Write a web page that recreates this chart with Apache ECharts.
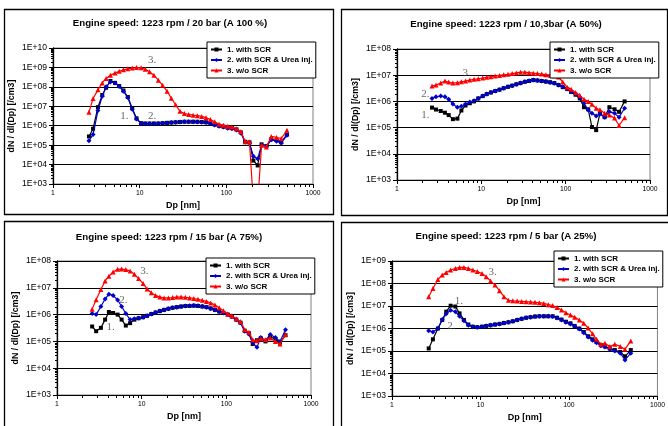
<!DOCTYPE html>
<html>
<head>
<meta charset="utf-8">
<script src="https://cdn.jsdelivr.net/npm/echarts@6/dist/echarts.min.js"></script>
<style>
  html, body { margin: 0; padding: 0; background: #fff; }
  #chart { width: 668px; height: 426px; }
</style>
</head>
<body>
<div id="chart"></div>
<script>
const dp = [2.6, 2.9, 3.3, 3.7, 4.1, 4.6, 5.2, 5.8, 6.5, 7.3, 8.2, 9.2, 10.4, 11.6, 13.0, 14.6, 16.4, 18.4, 20.7, 23.2,
  26.0, 29.2, 32.8, 36.8, 41.3, 46.3, 52.0, 58.3, 65.4, 73.4, 82.4, 92.4, 104, 116, 131, 147, 165, 185, 205, 230,
  255, 290, 330, 380, 430, 500]

const seriesNames = ['1. with SCR', '2. with SCR & Urea inj.', '3. w/o SCR']
const titles = [
  'Engine speed: 1223 rpm / 20 bar (A 100 %)',
  'Engine speed: 1223 rpm / 10,3bar (A 50%)',
  'Engine speed: 1223 rpm / 15 bar (A 75%)',
  'Engine speed: 1223 rpm / 5 bar (A 25%)'
]
const yMaxes = [1e10, 1e8, 1e8, 1e9]
const xTicksMinor = [2, 3, 4, 5, 6, 7, 8, 9, 20, 30, 40, 50, 60, 70, 80, 90, 200, 300, 400, 500, 600, 700, 800, 900]

// 20 bar
const p1Scr = [2.8e5, 7e5, 9e6, 3.8e7, 9e7, 2e8, 1.6e8, 1.1e8, 6.5e7, 3e7, 8e6, 2.4e6, 1.35e6, 1.3e6, 1.3e6, 1.3e6, 1.3e6, 1.35e6, 1.4e6, 1.45e6,
  1.5e6, 1.55e6, 1.6e6, 1.6e6, 1.6e6, 1.6e6, 1.55e6, 1.5e6, 1.35e6, 1.15e6, 1e6, 9e5, 8e5, 7.5e5, 6.5e5, 4.5e5, 1.5e5, 1.4e5, 1.6e4, 9e3,
  1.1e5, 9e4, 2e5, 1.8e5, 1.4e5, 3.5e5]
const p1Urea = [1.7e5, 3.5e5, 6e6, 3.3e7, 1e8, 1.8e8, 1.6e8, 1.05e8, 6e7, 2.8e7, 7e6, 2.2e6, 1.3e6, 1.25e6, 1.25e6, 1.25e6, 1.3e6, 1.35e6, 1.4e6, 1.45e6,
  1.5e6, 1.55e6, 1.6e6, 1.6e6, 1.6e6, 1.55e6, 1.5e6, 1.45e6, 1.3e6, 1.1e6, 9.5e5, 8.5e5, 7.5e5, 7e5, 6e5, 4.2e5, 1.4e5, 1.3e5, 2.7e4, 2e4,
  1e5, 8.5e4, 1.9e5, 1.6e5, 1.3e5, 3.2e5]
const p1NoScr = [5e6, 2.5e7, 7e7, 1.6e8, 2.7e8, 4e8, 5.2e8, 6.3e8, 7.5e8, 8.5e8, 9.3e8, 9.8e8, 9.5e8, 8e8, 6e8, 4e8, 2.2e8, 1.2e8, 6e7, 2.6e7,
  1.2e7, 5.5e6, 4.2e6, 3.8e6, 3.5e6, 3.3e6, 3e6, 2.6e6, 2.1e6, 1.6e6, 1.2e6, 1.05e6, 9.5e5, 8.5e5, 7e5, 5e5, 1.5e5, 1.5e5, 100, 100,
  1e5, 8e4, 2.8e5, 2.5e5, 2.2e5, 5.8e5]

// 10,3 bar
const p2Scr = [5.8e5, 4.9e5, 4.3e5, 3.7e5, 3e5, 2.1e5, 2.2e5, 4.5e5, 7e5, 8.5e5, 1e6, 1.3e6, 1.6e6, 1.9e6, 2.2e6, 2.5e6, 2.8e6, 3.2e6, 3.6e6, 4e6,
  4.5e6, 5e6, 5.6e6, 6e6, 6.5e6, 6.3e6, 6e6, 5.7e6, 5.4e6, 5e6, 4.2e6, 3.5e6, 3e6, 2.3e6, 1.8e6, 1.3e6, 6e5, 5e5, 1.05e5, 8e4,
  3.5e5, 2.5e5, 6e5, 5e5, 4e5, 1e6]
const p2Urea = [1.3e6, 1.5e6, 1.6e6, 1.5e6, 1.2e6, 8e5, 6e5, 6.5e5, 8e5, 9.5e5, 1.05e6, 1.3e6, 1.6e6, 1.9e6, 2.2e6, 2.5e6, 2.8e6, 3.2e6, 3.6e6, 4e6,
  4.5e6, 5e6, 5.6e6, 6.1e6, 6.5e6, 6.3e6, 6e6, 5.7e6, 5.3e6, 4.9e6, 4.2e6, 3.6e6, 3e6, 2.4e6, 1.9e6, 1.4e6, 8.5e5, 4.7e5, 3.5e5, 2.8e5,
  3.3e5, 2.5e5, 4e5, 3.5e5, 2.5e5, 5.5e5]
const p2NoScr = [3.9e6, 4.2e6, 5e6, 6e6, 5.5e6, 5e6, 5.2e6, 5.6e6, 6e6, 6.5e6, 7e6, 7.3e6, 7.8e6, 8.3e6, 8.8e6, 9.3e6, 9.8e6, 1.03e7, 1.08e7, 1.15e7,
  1.22e7, 1.3e7, 1.3e7, 1.25e7, 1.2e7, 1.15e7, 1.1e7, 1.05e7, 1e7, 9.5e6, 8.5e6, 5.5e6, 3.5e6, 2.9e6, 2.2e6, 1.7e6, 1.2e6, 1e6, 7.8e5, 5.5e5,
  4.8e5, 3.5e5, 3e5, 2.3e5, 1.2e5, 2.4e5]

// 15 bar
const p3Scr = [3.6e5, 2.4e5, 3.2e5, 6.5e5, 1.25e6, 1.15e6, 1e6, 6.5e5, 3.9e5, 4.8e5, 6.5e5, 7.3e5, 8e5, 9e5, 1.05e6, 1.2e6, 1.35e6, 1.5e6, 1.65e6, 1.8e6,
  1.9e6, 2e6, 2.1e6, 2.1e6, 2.15e6, 2.1e6, 2e6, 1.9e6, 1.7e6, 1.5e6, 1.3e6, 1.15e6, 1e6, 8.5e5, 6.5e5, 5e5, 2.5e5, 2e5, 8e4, 1.1e5,
  1.3e5, 1e5, 1.5e5, 1.2e5, 9e4, 1.7e5]
const p3Urea = [1.1e6, 1e6, 2e6, 3.8e6, 5.8e6, 5.2e6, 3.5e6, 2e6, 1.1e6, 6.5e5, 7e5, 7.5e5, 8e5, 9e5, 1.05e6, 1.2e6, 1.35e6, 1.5e6, 1.65e6, 1.8e6,
  1.9e6, 2e6, 2.1e6, 2.15e6, 2.2e6, 2.15e6, 2.05e6, 1.9e6, 1.7e6, 1.5e6, 1.3e6, 1.15e6, 1e6, 8.5e5, 6.5e5, 5e5, 2.4e5, 1.9e5, 9e4, 6e4,
  1.4e5, 1.1e5, 1.8e5, 1.4e5, 1e5, 2.7e5]
const p3NoScr = [1.6e6, 3.6e6, 8.7e6, 1.8e7, 2.7e7, 3.9e7, 4.9e7, 5e7, 4.8e7, 4.2e7, 3.2e7, 2.2e7, 1.45e7, 9e6, 6.5e6, 5.2e6, 4.5e6, 4.2e6, 4.2e6, 4.3e6,
  4.5e6, 4.5e6, 4.4e6, 4.2e6, 4e6, 3.7e6, 3.4e6, 3.1e6, 2.7e6, 2.3e6, 1.8e6, 1.4e6, 1.05e6, 9e5, 7e5, 5.5e5, 2.7e5, 2.2e5, 1.15e5, 1.05e5,
  1.25e5, 1.15e5, 1.35e5, 1e5, 8e4, 1.8e5]

// 5 bar
const p4Scr = [1.3e5, 3.3e5, 1e6, 2.4e6, 5.6e6, 1.03e7, 9.5e6, 4.7e6, 2.4e6, 1.5e6, 1.2e6, 1.15e6, 1.2e6, 1.3e6, 1.4e6, 1.5e6, 1.6e6, 1.75e6, 1.9e6, 2.1e6,
  2.4e6, 2.7e6, 3e6, 3.2e6, 3.4e6, 3.5e6, 3.5e6, 3.5e6, 3.5e6, 3e6, 2.5e6, 2e6, 1.7e6, 1.3e6, 1e6, 7e5, 4.5e5, 3.3e5, 2.5e5, 1.8e5,
  1.6e5, 1.3e5, 1.1e5, 9e4, 5.8e4, 1.1e5]
const p4Urea = [8e5, 7e5, 1e6, 2.5e6, 4.5e6, 6.5e6, 5.5e6, 3.5e6, 2.2e6, 1.4e6, 1.2e6, 1.15e6, 1.2e6, 1.3e6, 1.4e6, 1.5e6, 1.6e6, 1.75e6, 1.9e6, 2.1e6,
  2.4e6, 2.7e6, 3e6, 3.2e6, 3.4e6, 3.5e6, 3.5e6, 3.5e6, 3.4e6, 2.9e6, 2.4e6, 1.9e6, 1.6e6, 1.25e6, 9.5e5, 6.5e5, 4.2e5, 3e5, 2.3e5, 1.7e5,
  1.5e5, 1.2e5, 1e5, 8e4, 4e4, 8e4]
const p4NoScr = [2.6e7, 6e7, 1.5e8, 2.4e8, 3.1e8, 4e8, 4.7e8, 5.2e8, 5.2e8, 4.7e8, 4e8, 3.4e8, 2.8e8, 2e8, 1.3e8, 8.5e7, 4.8e7, 2.6e7, 1.8e7, 1.7e7,
  1.65e7, 1.6e7, 1.55e7, 1.5e7, 1.45e7, 1.4e7, 1.3e7, 1.15e7, 1.05e7, 8.5e6, 6.6e6, 5e6, 4e6, 3.2e6, 2.4e6, 1.7e6, 1.05e6, 5.8e5, 3.3e5, 2e5,
  2.2e5, 1.6e5, 2e5, 1.6e5, 1.2e5, 2.8e5]

// curve labels: [Dp, value, text]
const p1Notes = [[13.9, 2.3e9, '3.'], [6.65, 3.3e6, '1.'], [13.9, 3.3e6, '2.']]
const p2Notes = [[6.7, 1.2e7, '3.'], [2.17, 1.9e6, '2.'], [2.17, 3.1e5, '1.']]
const p3Notes = [[10.8, 4.2e7, '3.'], [6.1, 3.4e6, '2.'], [4.3, 3.3e5, '1.']]
const p4Notes = [[13.7, 3.1e8, '3.'], [5.7, 1.7e7, '1.'], [4.7, 1.3e6, '2.']]

const panelSeries = [
  [p1Scr, p1Urea, p1NoScr],
  [p2Scr, p2Urea, p2NoScr],
  [p3Scr, p3Urea, p3NoScr],
  [p4Scr, p4Urea, p4NoScr]
]
const panelNotes = [p1Notes, p2Notes, p3Notes, p4Notes]

const grids = [
  { left: 53, top: 48, width: 260, height: 136 },
  { left: 397, top: 49, width: 253, height: 131 },
  { left: 57, top: 261, width: 254, height: 134 },
  { left: 392, top: 261, width: 267, height: 135 }
]
const frames = [[4, 9, 329, 205], [341, 9, 326, 206], [4, 221, 329, 210], [341, 222, 330, 210]]
const titlePos = [[170, 18], [506, 19], [169, 232], [506, 231]]
const legendPos = [[207, 42], [550, 42], [206, 258], [554, 251]]

const styles = [
  { color: '#000000', symbol: 'rect', symbolSize: 4 },
  { color: '#0000cc', symbol: 'diamond', symbolSize: 5 },
  { color: '#ff0000', symbol: 'triangle', symbolSize: 5 }
]

const font = 'Liberation Sans, Arial, sans-serif'

function expLabel(v) {
  const e = Math.round(Math.log10(v))
  return '1E+' + String(e).padStart(2, '0')
}

function minorTicks(i, axis, values) {
  return {
    type: 'custom',
    xAxisIndex: i,
    yAxisIndex: i,
    silent: true,
    z: 3,
    data: values.map((v) => (axis === 'x' ? [v, 1000] : [1, v])),
    renderItem: (params, api) => {
      const p = api.coord([api.value(0), api.value(1)])
      const x = Math.round(p[0]) + 0.5
      const y = Math.round(p[1]) + 0.5
      return {
        type: 'line',
        shape: axis === 'x' ? { x1: x, y1: y, x2: x, y2: y + 2.5 } : { x1: x - 2.5, y1: y, x2: x, y2: y },
        style: { stroke: '#000', lineWidth: 1 }
      }
    }
  }
}

const series = []
panelSeries.forEach((list, i) => {
  list.forEach((values, k) => {
    series.push({
      name: seriesNames[k],
      type: 'line',
      xAxisIndex: i,
      yAxisIndex: i,
      data: dp.map((d, j) => [d, values[j]]),
      symbol: styles[k].symbol,
      symbolSize: styles[k].symbolSize,
      showSymbol: true,
      clip: true,
      z: 2 + k * 0.1,
      lineStyle: { color: styles[k].color, width: 1.2 },
      itemStyle: { color: styles[k].color }
    })
  })
  series.push({
    name: 'notes' + i,
    type: 'scatter',
    xAxisIndex: i,
    yAxisIndex: i,
    silent: true,
    data: panelNotes[i],
    symbolSize: 1,
    itemStyle: { color: 'rgba(0,0,0,0)' },
    label: {
      show: true,
      position: 'inside',
      formatter: (p) => p.value[2],
      fontFamily: 'Liberation Serif, Times New Roman, serif',
      fontSize: 11,
      color: '#444'
    }
  })
  const yMinor = []
  for (let d = 1e3; d < yMaxes[i]; d *= 10) {
    [2, 3, 4, 5, 6, 7, 8, 9].forEach((m) => yMinor.push(m * d))
  }
  series.push(minorTicks(i, 'x', xTicksMinor))
  series.push(minorTicks(i, 'y', yMinor))
})

const option = {
  animation: false,
  backgroundColor: '#fff',
  textStyle: { fontFamily: font },
  graphic: frames.map((f) => ({
    type: 'rect',
    shape: { x: f[0] + 0.5, y: f[1] + 0.5, width: f[2], height: f[3] },
    style: { fill: null, stroke: '#000', lineWidth: 1.3 },
    silent: true
  })),
  title: titles.map((t, i) => ({
    text: t,
    left: titlePos[i][0],
    top: titlePos[i][1],
    textAlign: 'center',
    padding: 0,
    textStyle: { fontSize: 9.7, fontWeight: 'bold', color: '#000', fontFamily: font }
  })),
  legend: legendPos.map((p) => ({
    data: seriesNames,
    left: p[0],
    top: p[1],
    orient: 'vertical',
    selectedMode: false,
    backgroundColor: '#fff',
    borderColor: '#000',
    borderWidth: 1,
    padding: [3, 3, 3, 3],
    itemGap: 1.5,
    itemWidth: 11,
    itemHeight: 5,
    textStyle: { fontSize: 8, fontWeight: 'bold', color: '#000', fontFamily: font, lineHeight: 9 }
  })),
  grid: grids.map((g) => ({
    left: g.left,
    top: g.top,
    width: g.width,
    height: g.height,
    show: true,
    backgroundColor: '#fff',
    borderColor: '#808080',
    borderWidth: 1
  })),
  xAxis: grids.map((g, i) => ({
    type: 'log',
    logBase: 10,
    gridIndex: i,
    min: 1,
    max: 1000,
    name: 'Dp [nm]',
    nameLocation: 'middle',
    nameGap: 17,
    nameTextStyle: { fontSize: 9, fontWeight: 'bold', color: '#000', fontFamily: font },
    axisLine: { show: true, lineStyle: { color: '#000', width: 1 } },
    axisTick: { show: true, length: 4, lineStyle: { color: '#000' } },
    axisLabel: { fontSize: 6.8, color: '#000', margin: 6, formatter: (v) => String(Math.round(v)) },
    splitLine: { show: false }
  })),
  yAxis: grids.map((g, i) => ({
    type: 'log',
    logBase: 10,
    gridIndex: i,
    min: 1e3,
    max: yMaxes[i],
    name: 'dN / dl(Dp) [/cm3]',
    nameLocation: 'middle',
    nameGap: 37,
    nameTextStyle: { fontSize: 8.8, fontWeight: 'bold', color: '#000', fontFamily: font },
    axisLine: { show: true, lineStyle: { color: '#000', width: 1.3 } },
    axisTick: { show: true, length: 4, lineStyle: { color: '#000' } },
    axisLabel: { fontSize: 8.6, color: '#000', margin: 6, formatter: expLabel },
    splitLine: { show: true, lineStyle: { color: '#000', width: 1 } }
  })),
  series: series
}

const chart = echarts.init(document.getElementById('chart'), null, { renderer: 'canvas' })
chart.setOption(option)
</script>
</body>
</html>
